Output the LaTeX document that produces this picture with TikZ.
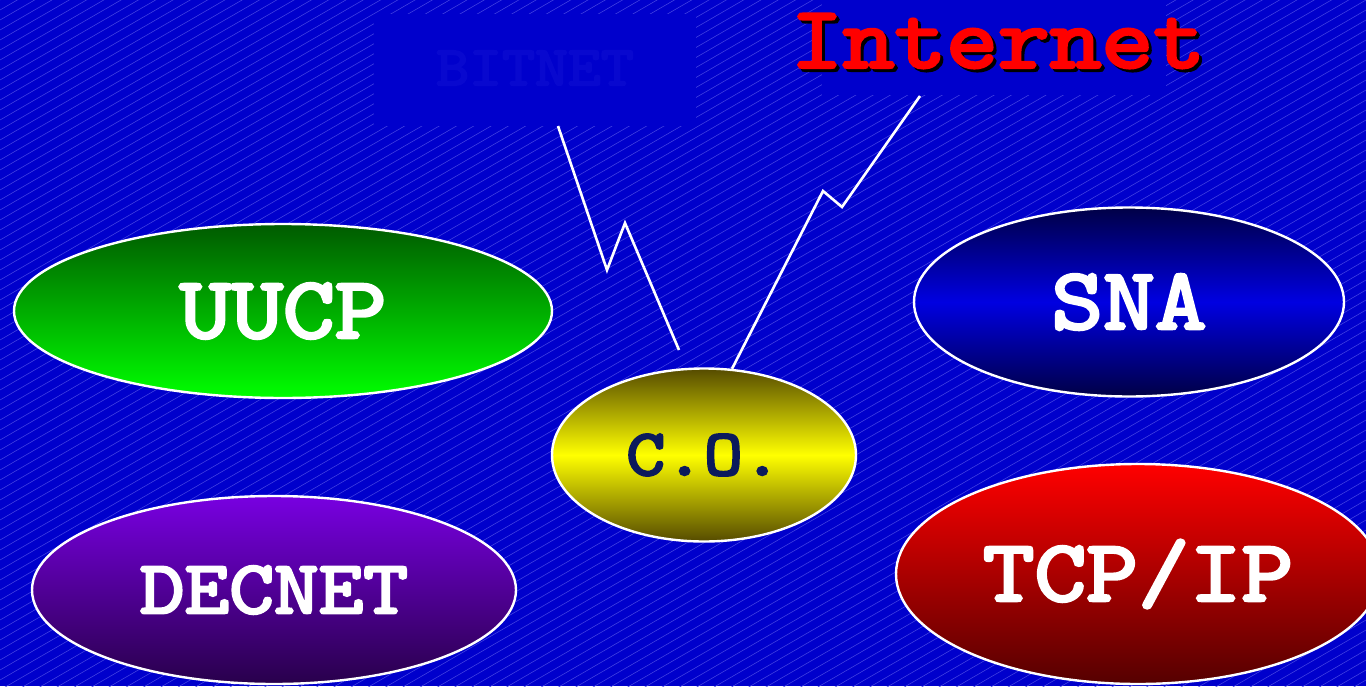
\documentclass[tikz,border=0pt]{standalone}
\usepackage{fontspec}
\usepackage{graphicx}
\usetikzlibrary{shapes.geometric}
\newfontfamily\cour{lmmono10-regular.otf}[FakeBold=3.2]
\definecolor{bg}{HTML}{0000CC}
\definecolor{hatch}{HTML}{4444E2}
\definecolor{boxblue}{HTML}{0000CC}
\definecolor{conavy}{HTML}{0B1A5C}
\newcommand{\cwide}[1]{\scalebox{1.12}[1]{#1}}
\tikzset{
  net/.style={ellipse, draw=white, line width=2.4pt, inner sep=0pt, text=white,
    font=\cour\fontsize{88}{88}\selectfont},
  solidbox/.style={fill=boxblue, draw=none, inner sep=0pt},
  bolt/.style={draw=white, line width=2.6pt, line join=miter},
}
\begin{document}
\begin{tikzpicture}[x=1pt,y=-1pt]
\useasboundingbox (0,0) rectangle (1366,686);
\fill[bg] (0,0) rectangle (1366,686);
\begin{scope}
  \clip (0,0) rectangle (1366,686);
  \foreach \i in {0,...,150} \draw[hatch,line width=0.55pt] (0,\i*10) -- (1366,\i*10-790);
\end{scope}

% title boxes
\node[solidbox, minimum width=322pt, minimum height=112pt] (bitnet) at (535,70) {};
\node[text=boxblue!88!hatch, font=\cour\fontsize{56}{56}\selectfont, inner sep=0pt] (bitnettext) at (535,68) {\cwide{BITNET}};
\node[solidbox, minimum width=344pt, minimum height=95pt] (inetbox) at (994,47) {};
\node[text=black, font=\cour\fontsize{88}{88}\selectfont, inner sep=0pt] (inetshadow) at (1001,44) {\cwide{Internet}};
\node[text=red, font=\cour\fontsize{88}{88}\selectfont, inner sep=0pt] (inet) at (998,41) {\cwide{Internet}};

% networks
\node[net, minimum width=538pt, minimum height=174pt, top color={rgb,255:red,0;green,90;blue,0}, bottom color={rgb,255:red,0;green,255;blue,0}] (uucp) at (283,311) {\cwide{UUCP}};
\node[net, minimum width=430pt, minimum height=189pt, top color={rgb,255:red,0;green,0;blue,70}, bottom color={rgb,255:red,0;green,0;blue,70}, middle color={rgb,255:red,0;green,0;blue,225}] (sna) at (1129,302) {\cwide{SNA}};
\node[net, minimum width=304pt, minimum height=173pt, top color={rgb,255:red,85;green,75;blue,0}, bottom color={rgb,255:red,85;green,75;blue,0}, middle color={rgb,255:red,255;green,255;blue,0}, text=conavy, font=\cour\fontsize{66}{66}\selectfont] (co) at (704,455) {\cwide{C.O.}};
\node[net, minimum width=484pt, minimum height=188pt, top color={rgb,255:red,120;green,0;blue,225}, bottom color={rgb,255:red,40;green,0;blue,75}, font=\cour\fontsize{76}{76}\selectfont] (decnet) at (274,590) {\cwide{DECNET}};
\node[net, minimum width=484pt, minimum height=220pt, top color={rgb,255:red,255;green,0;blue,0}, bottom color={rgb,255:red,85;green,0;blue,0}] (tcpip) at (1138,574) {\cwide{TCP/IP}};

% lightning connectors
\coordinate (l0) at (558,126);
\coordinate (l1) at (607,270);
\coordinate (l2) at (625,223);
\coordinate (l3) at (679,350);
\coordinate (r1) at (823,191);
\coordinate (r2) at (842,207);
\coordinate (r3) at (920,96);
\draw[bolt] (l0) -- (l1) -- (l2) -- (l3);
\draw[bolt] (co.72) -- (r1) -- (r2) -- (r3);
\end{tikzpicture}
\end{document}
